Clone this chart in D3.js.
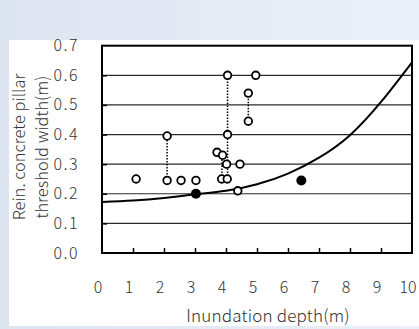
<!DOCTYPE html>
<html>
<head>
<meta charset="utf-8">
<script src="https://cdn.jsdelivr.net/npm/d3@7"></script>
<style>
  body { margin: 0; }
  svg { display: block; }
  text { font-family: "Noto Sans CJK JP", "Liberation Sans", sans-serif; font-weight: 300; fill: #333; }
</style>
</head>
<body>
<div id="container"></div>
<script>
// observed points (open circles)
const openX = [1.1, 2.1, 2.1, 2.55, 3.03, 3.71, 3.89, 3.86, 4.04, 4.02, 4.05, 4.05, 4.45, 4.38, 4.72, 4.72, 4.96];
const openY = [0.25, 0.245, 0.395, 0.245, 0.245, 0.34, 0.33, 0.25, 0.25, 0.30, 0.40, 0.60, 0.30, 0.21, 0.54, 0.445, 0.60];
// filled circles
const filledX = [3.03, 6.43];
const filledY = [0.2, 0.245];
// dotted connectors: x, from y, to y
const linkX = [2.1, 3.87, 4.05, 4.72];
const linkY0 = [0.245, 0.25, 0.25, 0.445];
const linkY1 = [0.395, 0.33, 0.60, 0.54];
// threshold curve
const curveX = [0, 1, 2, 3, 4, 5, 6, 7, 8, 9, 10];
const curveY = [0.172, 0.177, 0.186, 0.198, 0.21, 0.232, 0.268, 0.322, 0.398, 0.51, 0.644];
// ticks
const xTicks = [0, 1, 2, 3, 4, 5, 6, 7, 8, 9, 10];
const yTicks = [0, 0.1, 0.2, 0.3, 0.4, 0.5, 0.6, 0.7];

const width = 419;
const height = 329;

const svg = d3.select("#container")
    .append("svg")
    .attr("width", width)
    .attr("height", height);

// light blue backdrop with a gradient
const grad = svg.append("defs").append("linearGradient")
    .attr("id", "bg")
    .attr("x1", "0").attr("x2", "1").attr("y1", "0").attr("y2", "0");
grad.append("stop").attr("offset", "0").attr("stop-color", "#dde5f1");
grad.append("stop").attr("offset", "1").attr("stop-color", "#ebf0f8");
svg.append("rect").attr("width", width).attr("height", height).attr("fill", "url(#bg)");
svg.append("rect")
    .attr("x", 9).attr("y", 40)
    .attr("width", width - 9).attr("height", 286)
    .attr("fill", "#ffffff");

const scaleX = d3.scaleLinear().domain([0, 10]).range([102, 412]);
const scaleY = d3.scaleLinear().domain([0, 0.7]).range([253, 45.7]);

const graph = svg.append("g");

// gridlines
graph.append("g")
    .selectAll("line")
    .data(yTicks.filter(d => d > 0 && d < 0.7))
    .join("line")
    .attr("x1", scaleX(0)).attr("x2", scaleX(10))
    .attr("y1", d => scaleY(d)).attr("y2", d => scaleY(d))
    .attr("stroke", "#2a2a2a")
    .attr("stroke-width", 1.2);

// inward ticks on the axes
graph.append("g")
    .attr("transform", "translate(" + scaleX(0) + ",0)")
    .call(d3.axisRight(scaleY).tickValues(yTicks.slice(1, 7)).tickSize(5).tickFormat(""))
    .call(g => g.select(".domain").remove())
    .selectAll("line").attr("stroke", "#000").attr("stroke-width", 1.5);

graph.append("g")
    .attr("transform", "translate(0," + scaleY(0) + ")")
    .call(d3.axisTop(scaleX).tickValues(xTicks.slice(1, 10)).tickSize(5).tickFormat(""))
    .call(g => g.select(".domain").remove())
    .selectAll("line").attr("stroke", "#000").attr("stroke-width", 1.5);

// plot frame
graph.append("rect")
    .attr("x", scaleX(0)).attr("y", scaleY(0.7))
    .attr("width", scaleX(10) - scaleX(0))
    .attr("height", scaleY(0) - scaleY(0.7))
    .attr("fill", "none")
    .attr("stroke", "#000")
    .attr("stroke-width", 2);

// tick labels
svg.append("g")
    .selectAll("text")
    .data(yTicks)
    .join("text")
    .attr("x", 79)
    .attr("y", d => scaleY(d) + 5.5)
    .attr("text-anchor", "end")
    .attr("font-size", 16)
    .attr("letter-spacing", 1.5)
    .text(d => d.toFixed(1));

svg.append("g")
    .selectAll("text")
    .data(xTicks)
    .join("text")
    .attr("x", d => scaleX(d) - 4)
    .attr("y", 293)
    .attr("text-anchor", "middle")
    .attr("font-size", 16)
    .text(d => d);

// axis titles
svg.append("text")
    .attr("x", 268).attr("y", 322)
    .attr("text-anchor", "middle")
    .attr("font-size", 17)
    .attr("letter-spacing", 0.2)
    .text("Inundation depth(m)");

const yTitle = svg.append("text")
    .attr("transform", "translate(25,147) rotate(-90)")
    .attr("text-anchor", "middle")
    .attr("font-size", 16.5);
yTitle.append("tspan").attr("x", 0).attr("y", 0).text("Rein. concrete pillar");
yTitle.append("tspan").attr("x", 0).attr("y", 23).text("threshold width(m)");

// curve
const line = d3.line()
    .x((d, i) => scaleX(curveX[i]))
    .y(d => scaleY(d))
    .curve(d3.curveNatural);

graph.append("path")
    .datum(curveY)
    .attr("fill", "none")
    .attr("stroke", "#000")
    .attr("stroke-width", 2)
    .attr("d", line);

// dotted connectors
graph.append("g")
    .selectAll("line")
    .data(linkX)
    .join("line")
    .attr("x1", d => scaleX(d)).attr("x2", d => scaleX(d))
    .attr("y1", (d, i) => scaleY(linkY0[i]))
    .attr("y2", (d, i) => scaleY(linkY1[i]))
    .attr("stroke", "#000")
    .attr("stroke-width", 1.5)
    .attr("stroke-dasharray", "1.5,1.5");

// open circles
graph.append("g")
    .selectAll("circle")
    .data(openX)
    .join("circle")
    .attr("cx", d => scaleX(d))
    .attr("cy", (d, i) => scaleY(openY[i]))
    .attr("r", 3.8)
    .attr("fill", "#fff")
    .attr("stroke", "#000")
    .attr("stroke-width", 1.8);

// filled circles
graph.append("g")
    .selectAll("circle")
    .data(filledX)
    .join("circle")
    .attr("cx", d => scaleX(d))
    .attr("cy", (d, i) => scaleY(filledY[i]))
    .attr("r", 5)
    .attr("fill", "#000");
</script>
</body>
</html>
